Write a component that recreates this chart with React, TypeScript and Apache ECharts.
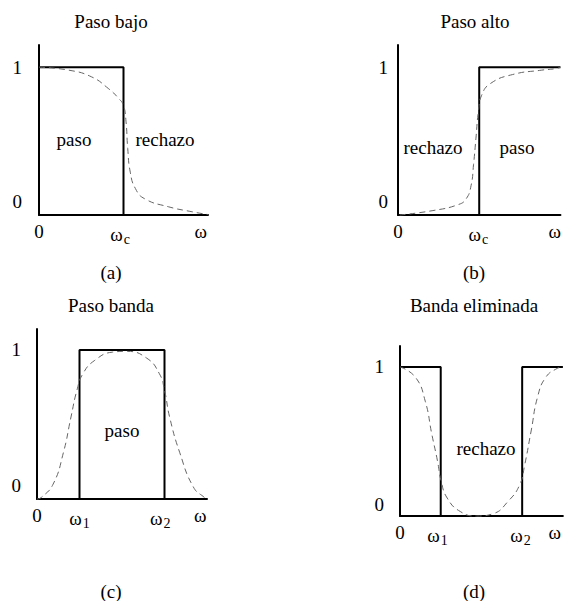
import React, { useEffect, useRef } from "react";
import * as echarts from "echarts";

// ---------- data ----------
const titles = ["Paso bajo", "Paso alto", "Paso banda", "Banda eliminada"];
const captions = ["(a)", "(b)", "(c)", "(d)"];
const regionTexts = [
  ["paso", "rechazo"],
  ["rechazo", "paso"],
  ["paso"],
  ["rechazo"],
];

// ideal responses (step lines)
const lowIdealX = [0, 1, 1];
const lowIdealY = [1, 1, 0];
const highIdealX = [1, 1, 2];
const highIdealY = [0, 1, 1];
const bandIdealX = [0.5, 0.5, 1.5, 1.5];
const bandIdealY = [0, 1, 1, 0];
const stopIdealX1 = [0, 0.5, 0.5];
const stopIdealY1 = [1, 1, 0];
const stopIdealX2 = [1.5, 1.5, 2];
const stopIdealY2 = [0, 1, 1];

const lowRealX = [0, 0.35, 0.62, 0.82, 0.94, 1.0, 1.03, 1.05, 1.08, 1.14, 1.25, 1.53, 1.81, 2.0];
const lowRealY = [1, 0.98, 0.935, 0.856, 0.79, 0.74, 0.63, 0.45, 0.29, 0.18, 0.11, 0.056, 0.022, 0.003];
const highRealX = [0.02, 0.43, 0.74, 0.84, 0.9, 0.93, 0.96, 0.99, 1.03, 1.14, 1.41, 1.77, 1.94, 2.0];
const highRealY = [0.0, 0.03, 0.07, 0.11, 0.2, 0.34, 0.52, 0.7, 0.81, 0.89, 0.95, 0.98, 0.99, 1.0];
const bandRealX = [0.0, 0.05, 0.19, 0.31, 0.4, 0.47, 0.54, 0.68, 0.89, 1.05, 1.29, 1.44, 1.5, 1.56, 1.68, 1.84, 1.97, 2.0];
const bandRealY = [0.0, 0.01, 0.1, 0.31, 0.55, 0.73, 0.84, 0.93, 0.985, 0.99, 0.945, 0.84, 0.73, 0.55, 0.31, 0.08, 0.01, 0.0];
const stopRealX = [0.0, 0.19, 0.31, 0.39, 0.46, 0.505, 0.58, 0.74, 0.94, 1.14, 1.33, 1.47, 1.53, 1.61, 1.69, 1.79, 1.93, 2.0];
const stopRealY = [1.0, 0.93, 0.77, 0.55, 0.37, 0.235, 0.12, 0.03, 0.0, 0.015, 0.1, 0.21, 0.34, 0.57, 0.8, 0.93, 0.99, 1.0];

// tick labels
const yTickValues = [
  [0.09, 1],
  [0.09, 1],
  [0.09, 1],
  [0.08, 1],
];
const yTickLabels = ["0", "1"];
const xTickValues = [
  [0, 0.96, 1.915],
  [0, 0.99, 1.93],
  [0, 0.5, 1.45, 1.92],
  [0, 0.46, 1.48, 1.9],
];
const xTickLabels = [
  ["0", "ω_c", "ω"],
  ["0", "ω_c", "ω"],
  ["0", "ω_1", "ω_2", "ω"],
  ["0", "ω_1", "ω_2", "ω"],
];

const zip = (xs: number[], ys: number[]) => xs.map((x, i) => [x, ys[i]]);

// ---------- layout ----------
const FONT = "Liberation Serif";
const grids = [
  { left: 39, top: 45, width: 169, height: 170, ymax: 1.15, ylm: 17 },
  { left: 398, top: 45, width: 169, height: 170, ymax: 1.15, ylm: 10 },
  { left: 37, top: 329, width: 170, height: 170, ymax: 1.14, ylm: 16 },
  { left: 400, top: 346, width: 169, height: 170, ymax: 1.14, ylm: 16 },
];
const titlePos = [
  [111, 21],
  [475, 21],
  [111, 305],
  [474, 305],
];
const captionPos = [
  [111, 272],
  [474, 272],
  [111, 591],
  [474, 591],
];
const regionPos = [
  [[74, 139], [165, 139]],
  [[433, 147], [517, 147]],
  [[122, 430]],
  [[486, 448]],
];

function fmtLabel(s: string) {
  if (s.indexOf("_") >= 0) {
    const [a, b] = s.split("_");
    return `{w|${a}}{s|${b}}`;
  }
  return `{w|${s}}`;
}

export default function App() {
  const ref = useRef<HTMLDivElement>(null);
  useEffect(() => {
    if (!ref.current) return;
    const chart = echarts.init(ref.current, null, { renderer: "svg" });

    const rich = {
      w: { fontFamily: FONT, fontSize: 19, color: "#000" },
      s: { fontFamily: FONT, fontSize: 14, color: "#000", padding: [10, 0, 0, 1] },
    };

    const xAxis = grids.map((g, i) => ({
      type: "value",
      gridIndex: i,
      min: 0,
      max: 2,
      axisLine: { show: true, onZero: false, lineStyle: { color: "#000", width: 2 } },
      axisTick: { show: false },
      splitLine: { show: false },
      axisLabel: {
        show: true,
        margin: 7,
        customValues: xTickValues[i],
        formatter: (v: number) => {
          const idx = xTickValues[i].findIndex((t) => Math.abs(t - v) < 1e-6);
          return idx >= 0 ? fmtLabel(xTickLabels[i][idx]) : "";
        },
        rich,
      },
    }));

    const yAxis = grids.map((g, i) => ({
      type: "value",
      gridIndex: i,
      min: 0,
      max: g.ymax,
      axisLine: { show: true, onZero: false, lineStyle: { color: "#000", width: 2 } },
      axisTick: { show: false },
      splitLine: { show: false },
      axisLabel: {
        show: true,
        margin: g.ylm,
        customValues: yTickValues[i],
        formatter: (v: number) => {
          const idx = yTickValues[i].findIndex((t) => Math.abs(t - v) < 1e-6);
          return idx >= 0 ? yTickLabels[idx] : "";
        },
        fontFamily: FONT,
        fontSize: 19,
        color: "#000",
      },
    }));

    const ideal = (data: number[][], i: number) => ({
      type: "line",
      xAxisIndex: i,
      yAxisIndex: i,
      data,
      symbol: "none",
      clip: false,
      lineStyle: { color: "#000", width: 2 },
      z: 3,
    });
    const real = (data: number[][], i: number) => ({
      type: "line",
      xAxisIndex: i,
      yAxisIndex: i,
      data,
      symbol: "none",
      smooth: 0.5,
      clip: false,
      lineStyle: { color: "#666", width: 1, type: [6, 4] },
      z: 4,
    });

    const series = [
      ideal(zip(lowIdealX, lowIdealY), 0),
      real(zip(lowRealX, lowRealY), 0),
      ideal(zip(highIdealX, highIdealY), 1),
      real(zip(highRealX, highRealY), 1),
      ideal(zip(bandIdealX, bandIdealY), 2),
      real(zip(bandRealX, bandRealY), 2),
      ideal(zip(stopIdealX1, stopIdealY1), 3),
      ideal(zip(stopIdealX2, stopIdealY2), 3),
      real(zip(stopRealX, stopRealY), 3),
    ];

    const textEl = (text: string, x: number, y: number) => ({
      type: "text",
      x,
      y,
      style: {
        text,
        fontFamily: FONT,
        fontSize: 19,
        fill: "#000",
        align: "center",
        verticalAlign: "middle",
      },
    });

    const graphic: any[] = [];
    titles.forEach((t, i) => graphic.push(textEl(t, titlePos[i][0], titlePos[i][1])));
    captions.forEach((t, i) => graphic.push(textEl(t, captionPos[i][0], captionPos[i][1])));
    regionTexts.forEach((arr, i) =>
      arr.forEach((t, j) => graphic.push(textEl(t, regionPos[i][j][0], regionPos[i][j][1])))
    );

    chart.setOption({
      animation: false,
      backgroundColor: "#fff",
      grid: grids.map((g) => ({
        left: g.left,
        top: g.top,
        width: g.width,
        height: g.height,
        containLabel: false,
      })),
      xAxis,
      yAxis,
      series,
      graphic,
    });

    return () => chart.dispose();
  }, []);

  return (
    <div
      ref={ref}
      style={{ position: "absolute", left: 0, top: 0, width: 564, height: 601, background: "#fff" }}
    />
  );
}
